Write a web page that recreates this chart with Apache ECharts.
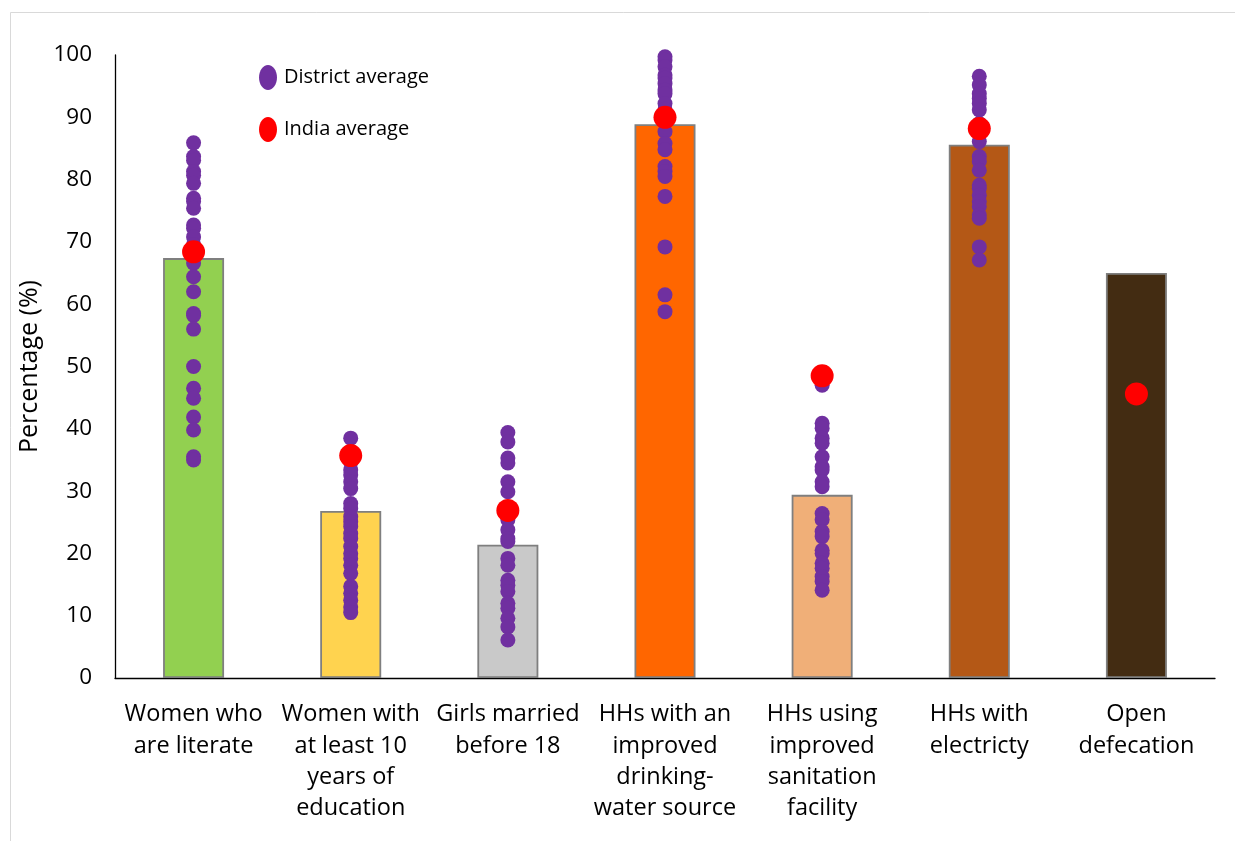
<!DOCTYPE html>
<html>
<head>
<meta charset="utf-8">
<script src="https://cdn.jsdelivr.net/npm/echarts@6/dist/echarts.min.js"></script>
<style>
  html, body { margin: 0; padding: 0; background: #ffffff; }
  #chart { width: 1235px; height: 841px; }
</style>
</head>
<body>
<div id="chart"></div>
<script>
// Indicator categories along the x axis
const categories = [
  'Women who\nare literate',
  'Women with\nat least 10\nyears of\neducation',
  'Girls married\nbefore 18',
  'HHs with an\nimproved\ndrinking-\nwater source',
  'HHs using\nimproved\nsanitation\nfacility',
  'HHs with\nelectricty',
  'Open\ndefecation'
];

// State-level value for each indicator (bars)
const stateValues = [67.4, 26.8, 21.4, 88.9, 29.4, 85.6, 65.0];

// India average for each indicator (red markers)
const indiaAverage = [68.4, 35.7, 26.9, 90.0, 48.5, 88.2, 45.6];

// District averages per indicator (purple markers)
const districtLiterate = [85.9, 83.7, 83.1, 81.3, 80.7, 79.4, 77.0, 76.5, 75.4, 72.7, 72.2, 70.8, 69.6, 66.6, 64.4, 62.0, 58.5, 58.2, 56.0, 50.0, 46.5, 44.9, 41.9, 39.8, 35.5, 35.0];
const districtEducation = [38.5, 34.6, 33.4, 32.6, 31.5, 30.4, 28.0, 27.2, 25.9, 25.1, 24.3, 23.2, 22.4, 21.1, 20.0, 19.2, 18.1, 16.8, 14.7, 13.6, 12.5, 11.4, 10.5];
const districtChildMarriage = [39.4, 37.9, 35.3, 34.5, 31.5, 29.9, 25.4, 23.8, 22.4, 21.9, 19.2, 18.1, 15.7, 14.9, 13.9, 12.0, 11.2, 9.6, 8.2, 6.1];
const districtWater = [99.7, 99.2, 98.1, 96.8, 96.3, 95.4, 94.4, 93.8, 92.2, 91.3, 87.7, 85.8, 84.8, 82.1, 81.3, 80.5, 77.3, 69.2, 61.5, 58.8];
const districtSanitation = [47.0, 40.9, 40.1, 38.5, 37.7, 35.5, 33.9, 33.4, 31.5, 30.7, 26.4, 25.4, 23.5, 22.7, 20.5, 20.0, 18.4, 17.6, 16.3, 15.5, 14.1];
const districtElectricity = [96.6, 95.2, 93.8, 93.0, 92.2, 91.2, 89.0, 86.1, 83.7, 82.9, 81.5, 79.1, 78.6, 77.5, 76.5, 75.7, 74.3, 73.8, 69.2, 67.1];
const districtOpenDefecation = [];

const districtSets = [
  districtLiterate, districtEducation, districtChildMarriage,
  districtWater, districtSanitation, districtElectricity, districtOpenDefecation
];

const barColors = ['#92D050', '#FFD34F', '#C9C9C9', '#FF6600', '#F0AF78', '#B45816', '#432C12'];

const FONT = '"Open Sans", Lato, sans-serif';
// upright ellipse used as the legend marker
const ELLIPSE = 'path://M9,0 C14,0 18,5.6 18,12.5 C18,19.4 14,25 9,25 C4,25 0,19.4 0,12.5 C0,5.6 4,0 9,0 Z';

const districtPoints = [];
districtSets.forEach((vals, i) => vals.forEach(v => districtPoints.push([i, v])));
const indiaPoints = indiaAverage.map((v, i) => [i, v]);

const chart = echarts.init(document.getElementById('chart'), null, { renderer: 'canvas' });
chart.setOption({
  backgroundColor: '#ffffff',
  animation: false,
  graphic: [{
    type: 'rect',
    shape: { x: 10.5, y: 12.5, width: 1240, height: 840 },
    style: { fill: 'none', stroke: '#D9D9D9', lineWidth: 1 },
    silent: true
  }],
  legend: {
    orient: 'vertical',
    left: 259,
    top: 65,
    padding: 0,
    itemWidth: 18,
    itemHeight: 25,
    itemGap: 27,
    data: [
      { name: 'District average', icon: ELLIPSE },
      { name: 'India average', icon: ELLIPSE }
    ],
    textStyle: { fontFamily: FONT, fontSize: 20, color: '#000000', padding: [0, 0, 6, 2] }
  },
  grid: { left: 115, right: 20, top: 55, bottom: 163, containLabel: false },
  xAxis: {
    type: 'category',
    data: categories,
    axisLine: { show: true, lineStyle: { color: '#000000', width: 1.3 } },
    axisTick: { show: false },
    axisLabel: {
      interval: 0,
      fontFamily: FONT,
      fontSize: 23.5,
      color: '#000000',
      lineHeight: 31.3,
      margin: 21
    }
  },
  yAxis: {
    type: 'value',
    min: 0,
    max: 100,
    interval: 10,
    name: 'Percentage (%)',
    nameLocation: 'middle',
    nameGap: 70,
    nameTextStyle: { fontFamily: FONT, fontSize: 25, color: '#000000' },
    axisLine: { show: true, lineStyle: { color: '#000000', width: 1.3 } },
    axisTick: { show: false },
    splitLine: { show: false },
    axisLabel: { fontFamily: FONT, fontSize: 22.5, color: '#000000', margin: 23 }
  },
  series: [
    {
      name: 'State',
      type: 'bar',
      barWidth: 61,
      data: stateValues.map((v, i) => ({
        value: v,
        itemStyle: { color: barColors[i] }
      })),
      itemStyle: { borderColor: '#7F7F7F', borderWidth: 1.8 },
      z: 1
    },
    {
      name: 'District average',
      type: 'scatter',
      symbol: 'circle',
      symbolSize: 15,
      itemStyle: { color: '#7030A0', opacity: 1 },
      data: districtPoints,
      z: 3
    },
    {
      name: 'India average',
      type: 'scatter',
      symbol: 'circle',
      symbolSize: 23,
      itemStyle: { color: '#FF0000', opacity: 1 },
      data: indiaPoints,
      z: 4
    }
  ]
});
</script>
</body>
</html>
